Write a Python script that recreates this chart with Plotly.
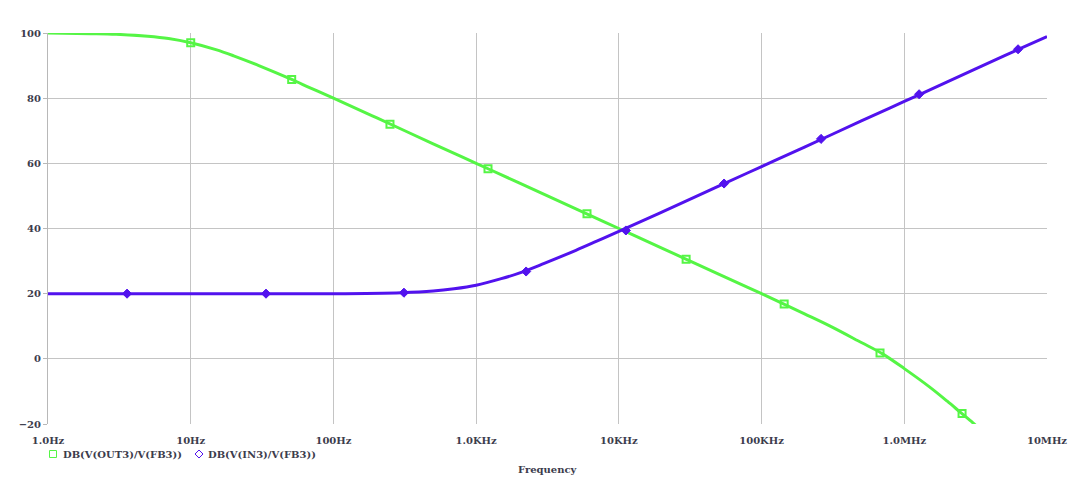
import plotly.graph_objects as go

freq_out = [1, 2, 3, 5, 7, 10, 15, 20, 30, 50, 70, 100, 200, 500, 1e3, 2e3, 5e3, 1e4, 2e4,
            5e4, 1e5, 2e5, 3e5, 5e5, 7e5, 1e6, 1.5e6, 2e6, 2.5e6, 3e6, 3.2e6]
db_out = [100.0, 99.8, 99.6, 99.0, 98.3, 97.0, 94.9, 93.0, 90.0, 85.9, 83.0, 80.0, 74.0, 66.0,
          60.0, 54.0, 46.0, 40.0, 34.0, 26.0, 20.0, 13.8, 10.1, 5.0, 1.6, -3.0, -8.6, -13.0,
          -16.6, -19.5, -20.6]

freq_in = [1, 10, 100, 300, 500, 700, 1000, 1500, 2000, 3000, 5000, 7000, 1e4, 2e4, 5e4,
           1e5, 2e5, 5e5, 1e6, 2e6, 5e6, 1e7]
db_in = [20.0, 20.0, 20.0, 20.3, 20.8, 21.5, 22.6, 24.6, 26.3, 29.3, 33.3, 36.1, 39.1, 45.0,
         53.0, 59.0, 65.0, 73.0, 79.0, 85.0, 93.0, 98.9]

# Marker positions
mk_out_f = [10, 51, 249, 1211, 5980, 29600, 144000, 676000, 2540000]
mk_out_v = [97.0, 85.7, 72.0, 58.3, 44.5, 30.6, 16.8, 1.8, -16.8]
mk_in_f = [3.58, 33.7, 312, 2240, 11200, 54600, 261000, 1270000, 6270000]
mk_in_v = [20.0, 20.0, 20.3, 26.8, 39.4, 53.8, 67.5, 81.2, 95.0]

x_tickvals = [1, 10, 100, 1e3, 1e4, 1e5, 1e6, 1e7]
x_ticktext = ["1.0Hz", "10Hz", "100Hz", "1.0KHz", "10KHz", "100KHz", "1.0MHz", "10MHz"]
y_tickvals = [-20, 0, 20, 40, 60, 80, 100]

series_names = ["DB(V(OUT3)/V(FB3))", "DB(V(IN3)/V(FB3))"]

GREEN = "#55F545"
PURPLE = "#5212EE"
FONT = dict(family="DejaVu Serif", size=10, color="#3c3c4c", weight="bold")

# plot area in pixels (for placing the hand-drawn legend)
L, R, T, B = 48, 1047, 33, 424
def px(x):
    return (x - L) / (R - L)
def py(y):
    return (B - y) / (B - T)

fig = go.Figure()
fig.add_trace(go.Scatter(x=freq_out, y=db_out, mode="lines", line=dict(color=GREEN, width=3, shape="spline"),
                         showlegend=False, hoverinfo="skip"))
fig.add_trace(go.Scatter(x=freq_in, y=db_in, mode="lines", line=dict(color=PURPLE, width=3, shape="spline"),
                         showlegend=False, hoverinfo="skip"))
fig.add_trace(go.Scatter(x=mk_out_f, y=mk_out_v, mode="markers", name=series_names[0], showlegend=False,
                         marker=dict(symbol="square-open", size=7, color=GREEN, line=dict(width=2, color=GREEN))))
fig.add_trace(go.Scatter(x=mk_in_f, y=mk_in_v, mode="markers", name=series_names[1], showlegend=False,
                         marker=dict(symbol="diamond", size=7, color=PURPLE, line=dict(width=1, color=PURPLE))))

leg_y = py(454)
shapes = [
    dict(type="rect", xref="paper", yref="paper", xsizemode="pixel", ysizemode="pixel",
         xanchor=px(53), yanchor=leg_y, x0=-3.5, x1=3.5, y0=-3.5, y1=3.5,
         line=dict(color=GREEN, width=1), fillcolor="rgba(0,0,0,0)"),
    dict(type="path", xref="paper", yref="paper", xsizemode="pixel", ysizemode="pixel",
         xanchor=px(199), yanchor=leg_y, path="M -4 0 L 0 4 L 4 0 L 0 -4 Z",
         line=dict(color=PURPLE, width=1), fillcolor="rgba(0,0,0,0)"),
]

annotations = [
    dict(text=series_names[0], xref="paper", yref="paper", x=px(61), y=leg_y,
         xanchor="left", yanchor="middle", showarrow=False, font=FONT),
    dict(text=series_names[1], xref="paper", yref="paper", x=px(206), y=leg_y,
         xanchor="left", yanchor="middle", showarrow=False, font=FONT),
    dict(text="Frequency", xref="paper", yref="paper", x=0.5, y=py(469),
         xanchor="center", yanchor="middle", showarrow=False, font=FONT),
]

fig.update_layout(
    width=1080, height=477,
    margin=dict(l=L, r=1080 - R, t=T, b=477 - B),
    paper_bgcolor="white", plot_bgcolor="white",
    font=FONT,
    showlegend=False,
    shapes=shapes,
    annotations=annotations,
    xaxis=dict(type="log", range=[0, 7], tickvals=x_tickvals, ticktext=x_ticktext,
               showgrid=True, gridcolor="#c4c4c4", gridwidth=1, ticklabelstandoff=9,
               showline=False, ticks="", zeroline=False, tickfont=FONT),
    yaxis=dict(range=[-20, 100], tickvals=y_tickvals, showgrid=True, gridcolor="#c4c4c4", gridwidth=1,
               showline=True, linecolor="#b8b8b8", linewidth=1, ticks="outside", ticklen=4,
               tickcolor="#b8b8b8", zeroline=False, tickfont=FONT),
)

fig.write_html("out.html")
